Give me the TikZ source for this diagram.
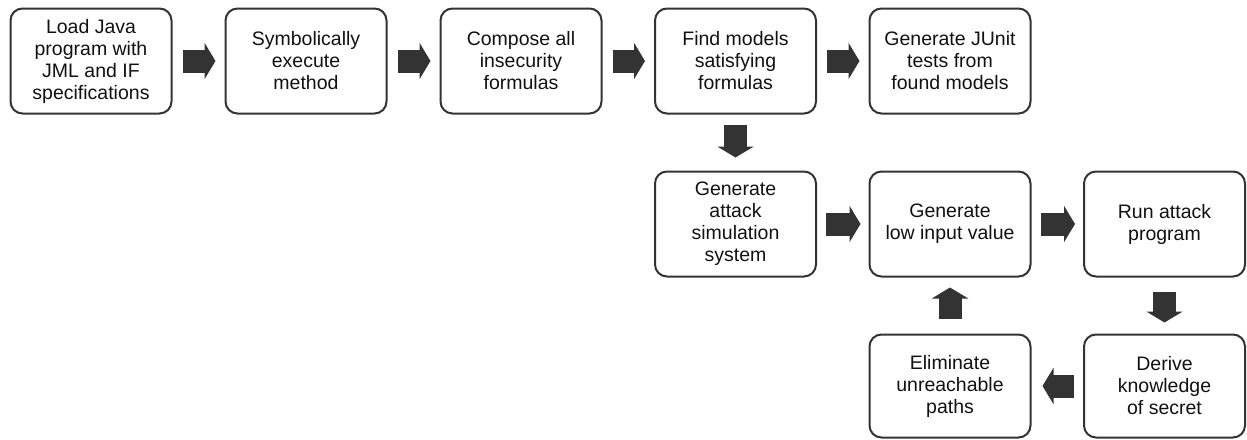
\documentclass[tikz,border=0pt]{standalone}
\usepackage{fontspec}
\setmainfont{Liberation Sans}
\usetikzlibrary{arrows.meta}
\definecolor{edgec}{HTML}{333333}
\definecolor{arrc}{HTML}{333333}
\definecolor{txtc}{HTML}{111111}
\tikzset{
  stepbox/.style={draw=edgec, line width=2pt, rounded corners=12pt, rectangle,
    minimum width=161pt, minimum height=105pt, align=center, text=txtc,
    font=\fontsize{19.5}{22}\selectfont, inner sep=2pt},
  blk/.style={draw=arrc, line width=23pt, -{Triangle[length=11pt,width=36pt]}}
}
\begin{document}
\begin{tikzpicture}[x=1pt,y=-1pt]
\useasboundingbox (0,0) rectangle (1247,439);
\node[stepbox] (n1) at (91,61) {Load Java\\program with\\JML and IF\\specifications};
\node[stepbox] (n2) at (306,61) {Symbolically\\execute\\method};
\node[stepbox] (n3) at (521,61) {Compose all\\insecurity\\formulas};
\node[stepbox] (n4) at (735.5,61) {Find models\\satisfying\\formulas};
\node[stepbox] (n5) at (950,61) {Generate JUnit\\tests from\\found models};
\node[stepbox] (n6) at (735.5,224) {Generate\\attack\\simulation\\system};
\node[stepbox] (n7) at (950,224) {Generate\\low input value};
\node[stepbox] (n8) at (1164.5,224) {Run attack\\program};
\node[stepbox, minimum height=103pt] (n9) at (950,386) {Eliminate\\unreachable\\paths};
\node[stepbox, minimum height=103pt] (n10) at (1164.5,386) {Derive\\knowledge\\of secret};
\draw[blk, shorten <=10pt, shorten >=9pt] (n1) -- (n2);
\draw[blk, shorten <=10pt, shorten >=9pt] (n2) -- (n3);
\draw[blk, shorten <=10pt, shorten >=9pt] (n3) -- (n4);
\draw[blk, shorten <=10pt, shorten >=9pt] (n4) -- (n5);
\draw[blk, shorten <=10pt, shorten >=13pt] (n4) -- (n6);
\draw[blk, shorten <=9pt, shorten >=8pt] (n6) -- (n7);
\draw[blk, shorten <=9pt, shorten >=8pt] (n7) -- (n8);
\draw[blk, shorten <=14pt, shorten >=11pt] (n8) -- (n10);
\draw[blk, shorten <=9pt, shorten >=11pt] (n10) -- (n9);
\draw[blk, shorten <=15pt, shorten >=10pt] (n9) -- (n7);
\end{tikzpicture}
\end{document}
